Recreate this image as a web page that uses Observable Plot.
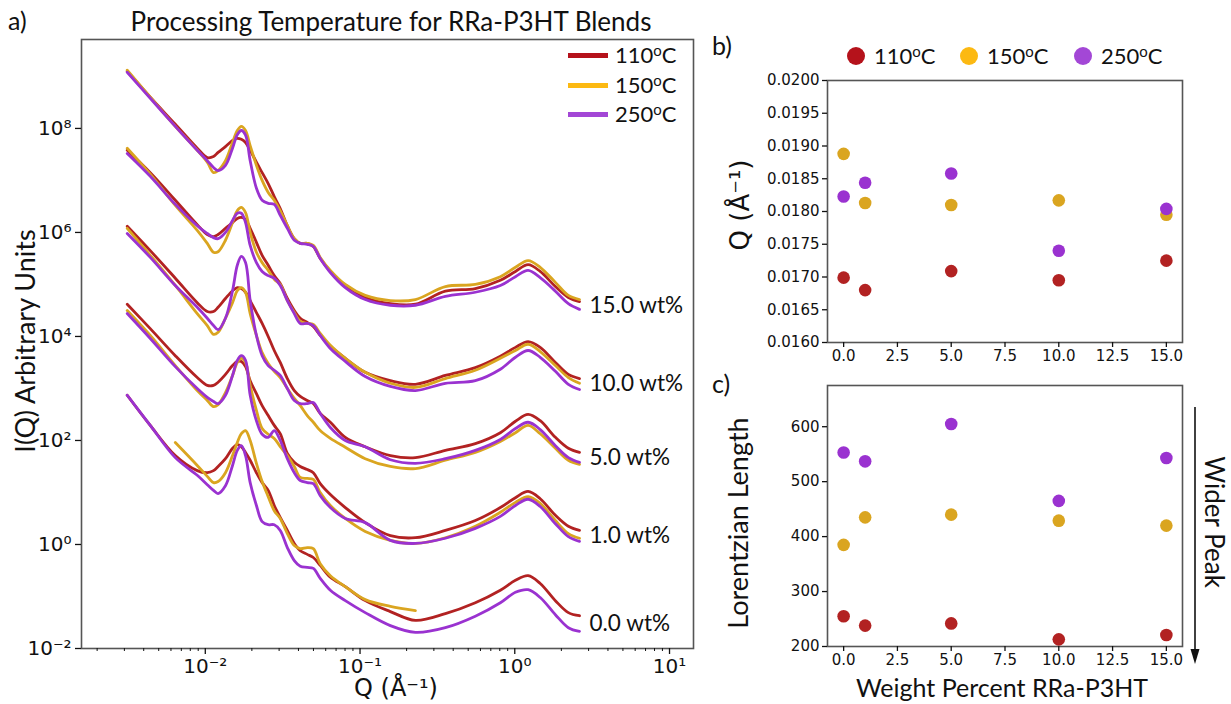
<!DOCTYPE html>
<html><head><meta charset="utf-8">
<script src="https://cdn.jsdelivr.net/npm/d3@7"></script>
<script src="https://cdn.jsdelivr.net/npm/@observablehq/plot@0.6"></script>
<style>
body{margin:0;background:#fff}
#root{position:relative;width:1231px;height:704px;overflow:hidden;background:#fff;font-family:Lato,sans-serif;color:#111}
.abs{position:absolute;white-space:nowrap;line-height:1}
.c{transform:translate(-50%,-50%)}
.rl{transform:translate(-50%,-50%) rotate(-90deg)}
.rr{transform:translate(-50%,-50%) rotate(90deg)}
.sup{font-size:0.68em;position:relative;top:-0.5em}
</style></head><body>
<div id="root">
  <div id="pa" class="abs" style="left:0;top:0"></div>
  <div id="pb" class="abs" style="left:700px;top:0"></div>
  <div id="pc" class="abs" style="left:700px;top:372px"></div>
</div>
<script>
// ---------- DATA ----------
const temps = ["110", "150", "250"];
const tempColors = ["#b22222", "#daa520", "#9a32d0"];
const legendColors = ["#b5121b", "#fcb912", "#a347d6"];
const wtLabels = ["15.0 wt%", "10.0 wt%", "5.0 wt%", "1.0 wt%", "0.0 wt%"];

// Q grid (Å^-1) shared by the SAXS curves of panel a
const qGrid = [0.00313, 0.00441, 0.00640, 0.00887, 0.0103, 0.0113, 0.0121, 0.0135, 0.0150, 0.0161,
  0.0171, 0.0182, 0.0195, 0.0214, 0.0233, 0.0255, 0.0279, 0.0305, 0.0339, 0.0376,
  0.0411, 0.0456, 0.0499, 0.0553, 0.0643, 0.0803, 0.108, 0.157, 0.228, 0.356,
  0.556, 0.807, 1.01, 1.22, 1.46, 1.83, 2.22, 2.62];

// log10 I(Q) (offset curves)
const logI_15_110 = [9.10, 8.60, 8.08, 7.62, 7.44, 7.46, 7.54, 7.65, 7.77, 7.81, 7.79, 7.73, 7.58, 7.35, 7.15, 6.94, 6.69, 6.46, 6.13, 5.88, 5.79, 5.79, 5.73, 5.50, 5.25, 4.96, 4.75, 4.63, 4.62, 4.87, 4.92, 5.08, 5.25, 5.38, 5.25, 4.96, 4.75, 4.67];
const logI_15_150 = [9.12, 8.60, 8.04, 7.58, 7.35, 7.15, 7.19, 7.38, 7.73, 7.96, 8.04, 7.96, 7.67, 7.29, 7.00, 6.77, 6.62, 6.42, 6.13, 5.88, 5.79, 5.79, 5.75, 5.52, 5.27, 5.00, 4.79, 4.69, 4.71, 4.96, 5.00, 5.15, 5.33, 5.46, 5.33, 5.04, 4.79, 4.71];
const logI_15_250 = [9.08, 8.58, 8.04, 7.58, 7.38, 7.25, 7.19, 7.29, 7.62, 7.88, 7.96, 7.87, 7.38, 6.85, 6.62, 6.56, 6.54, 6.33, 6.08, 5.85, 5.79, 5.77, 5.73, 5.50, 5.23, 4.94, 4.71, 4.60, 4.60, 4.77, 4.85, 4.98, 5.15, 5.27, 5.13, 4.87, 4.63, 4.52];
const logI_10_110 = [7.58, 7.15, 6.62, 6.15, 5.96, 5.92, 5.96, 6.08, 6.19, 6.27, 6.29, 6.25, 6.08, 5.81, 5.56, 5.37, 5.17, 5.02, 4.73, 4.50, 4.35, 4.27, 4.19, 4.02, 3.81, 3.58, 3.31, 3.15, 3.08, 3.25, 3.40, 3.62, 3.79, 3.90, 3.79, 3.50, 3.27, 3.19];
const logI_10_150 = [7.62, 7.12, 6.52, 6.04, 5.79, 5.62, 5.63, 5.85, 6.19, 6.42, 6.48, 6.38, 6.00, 5.62, 5.42, 5.27, 5.10, 5.00, 4.69, 4.46, 4.29, 4.25, 4.23, 4.06, 3.83, 3.58, 3.31, 3.10, 3.02, 3.19, 3.35, 3.58, 3.73, 3.85, 3.71, 3.44, 3.21, 3.10];
const logI_10_250 = [7.52, 7.08, 6.54, 6.13, 5.98, 5.90, 5.88, 6.00, 6.23, 6.37, 6.37, 6.19, 5.75, 5.42, 5.25, 5.17, 5.12, 4.98, 4.69, 4.44, 4.25, 4.25, 4.21, 4.02, 3.77, 3.52, 3.23, 3.04, 2.96, 3.10, 3.15, 3.37, 3.60, 3.73, 3.60, 3.33, 3.08, 2.98];
const logI_5_110 = [6.12, 5.65, 5.12, 4.65, 4.48, 4.48, 4.56, 4.73, 4.88, 4.94, 4.92, 4.85, 4.69, 4.46, 4.25, 4.00, 3.73, 3.50, 3.19, 2.96, 2.85, 2.77, 2.71, 2.52, 2.35, 2.06, 1.88, 1.71, 1.67, 1.81, 1.94, 2.15, 2.37, 2.50, 2.38, 2.06, 1.85, 1.77];
const logI_5_150 = [6.08, 5.56, 4.98, 4.44, 4.21, 4.04, 4.08, 4.35, 4.65, 4.88, 4.94, 4.85, 4.44, 4.02, 3.69, 3.48, 3.33, 3.21, 3.00, 2.81, 2.67, 2.48, 2.35, 2.19, 2.04, 1.87, 1.65, 1.50, 1.46, 1.62, 1.77, 1.98, 2.15, 2.29, 2.13, 1.85, 1.62, 1.54];
const logI_5_250 = [5.98, 5.52, 4.98, 4.56, 4.35, 4.21, 4.13, 4.35, 4.88, 5.37, 5.54, 5.42, 4.69, 4.02, 3.63, 3.44, 3.35, 3.25, 3.00, 2.77, 2.71, 2.71, 2.73, 2.52, 2.25, 2.00, 1.88, 1.63, 1.56, 1.65, 1.81, 2.02, 2.23, 2.35, 2.21, 1.90, 1.67, 1.58];
const logI_1_110 = [4.62, 4.15, 3.63, 3.21, 3.06, 3.06, 3.12, 3.27, 3.44, 3.52, 3.52, 3.42, 3.15, 2.90, 2.67, 2.48, 2.29, 2.13, 1.75, 1.58, 1.50, 1.44, 1.38, 1.17, 0.96, 0.71, 0.42, 0.17, 0.13, 0.27, 0.46, 0.71, 0.90, 1.02, 0.88, 0.56, 0.35, 0.27];
const logI_1_150 = [4.50, 4.02, 3.44, 2.96, 2.77, 2.65, 2.69, 2.92, 3.25, 3.50, 3.58, 3.50, 3.06, 2.58, 2.23, 2.12, 2.04, 1.88, 1.71, 1.50, 1.29, 1.27, 1.25, 1.00, 0.75, 0.50, 0.25, 0.08, 0.02, 0.13, 0.35, 0.62, 0.81, 0.92, 0.79, 0.46, 0.21, 0.12];
const logI_1_250 = [4.44, 3.96, 3.42, 3.00, 2.83, 2.75, 2.71, 2.87, 3.25, 3.54, 3.63, 3.54, 2.87, 2.38, 2.12, 2.06, 2.19, 2.00, 1.65, 1.38, 1.23, 1.19, 1.17, 0.94, 0.71, 0.50, 0.42, 0.08, 0.02, 0.12, 0.31, 0.54, 0.75, 0.87, 0.73, 0.40, 0.15, 0.06];
const logI_0_110 = [2.87, 2.29, 1.71, 1.42, 1.38, 1.42, 1.50, 1.65, 1.85, 1.92, 1.88, 1.77, 1.62, 1.38, 1.19, 1.04, 0.75, 0.52, 0.27, 0.02, -0.12, -0.19, -0.25, -0.40, -0.63, -0.81, -1.08, -1.29, -1.46, -1.33, -1.12, -0.88, -0.69, -0.60, -0.75, -1.08, -1.31, -1.37];
const logI_0_150 = [null, null, 1.96, 1.52, 1.31, 1.19, 1.21, 1.38, 1.71, 1.96, 2.13, 2.19, 2.00, 1.56, 1.21, 0.92, 0.65, 0.50, 0.21, -0.02, -0.08, -0.06, -0.08, -0.37, -0.60, -0.81, -1.06, -1.19, -1.27, null, null, null, null, null, null, null, null, null];
const logI_0_250 = [2.87, 2.29, 1.67, 1.33, 1.15, 1.04, 0.98, 1.13, 1.52, 1.81, 1.90, 1.71, 1.19, 0.75, 0.44, 0.38, 0.38, 0.27, -0.06, -0.31, -0.42, -0.44, -0.46, -0.65, -0.88, -1.08, -1.31, -1.56, -1.69, -1.60, -1.38, -1.12, -0.92, -0.87, -1.02, -1.35, -1.60, -1.67];

// panels b and c
const wtPercent = [0, 1, 5, 10, 15];
const peakQ_110 = [0.01699, 0.01680, 0.01709, 0.01695, 0.01725];
const peakQ_150 = [0.01888, 0.01813, 0.01810, 0.01817, 0.01795];
const peakQ_250 = [0.01823, 0.01844, 0.01858, 0.01740, 0.01804];
const lorentz_110 = [255, 238, 242, 213, 221];
const lorentz_150 = [385, 435, 440, 429, 420];
const lorentz_250 = [553, 537, 605, 465, 543];

// tick values / labels
const logXTicks = [0.01, 0.1, 1, 10];
const logXTickLabels = ["10⁻²", "10⁻¹", "10⁰", "10¹"];
const logYTicks = [1e-2, 1, 1e2, 1e4, 1e6, 1e8];
const logYTickLabels = ["10⁻²", "10⁰", "10²", "10⁴", "10⁶", "10⁸"];
const qTicks = [0.0160, 0.0165, 0.0170, 0.0175, 0.0180, 0.0185, 0.0190, 0.0195, 0.0200];
const lorTicks = [200, 300, 400, 500, 600];
const wtTicks = [0, 2.5, 5, 7.5, 10, 12.5, 15];

// ---------- BUILD ----------
const curveSets = {
  "15.0 wt%": [logI_15_110, logI_15_150, logI_15_250],
  "10.0 wt%": [logI_10_110, logI_10_150, logI_10_250],
  "5.0 wt%": [logI_5_110, logI_5_150, logI_5_250],
  "1.0 wt%": [logI_1_110, logI_1_150, logI_1_250],
  "0.0 wt%": [logI_0_110, logI_0_150, logI_0_250]
};
const saxs = [];
temps.forEach((t, ti) => {
  wtLabels.forEach(w => {
    curveSets[w][ti].forEach((v, i) => {
      if (v != null) saxs.push({q: qGrid[i], I: Math.pow(10, v), temp: t, key: w + "|" + t});
    });
  });
});
const last = qGrid.length - 1;
const groupLabels = wtLabels.map(w => {
  const s = curveSets[w];
  return {label: w, q: qGrid[last], I: Math.pow(10, (s[0][last] + s[2][last]) / 2)};
});
const minorX = [];
for (const dec of [0.001, 0.01, 0.1, 1]) for (let m = 2; m <= 9; m++) {
  const v = m * dec; if (v > 0.00158 && v < 14.3) minorX.push(v);
}
const xLab = new Map(logXTicks.map((v, i) => [v, logXTickLabels[i]]));
const yLab = new Map(logYTicks.map((v, i) => [v, logYTickLabels[i]]));
const color = {domain: temps, range: tempColors};

const pa = Plot.plot({
  width: 700, height: 704,
  marginLeft: 81, marginRight: 7, marginTop: 39, marginBottom: 56,
  style: {fontFamily: "DejaVu Sans", fontSize: "20px", color: "#111", background: "transparent"},
  x: {type: "log", domain: [Math.pow(10, -2.80), Math.pow(10, 1.155)], label: null},
  y: {type: "log", domain: [1e-2, Math.pow(10, 9.71)], label: null},
  color,
  marks: [
    Plot.line(saxs, {x: "q", y: "I", z: "key", stroke: "temp", strokeWidth: 2.8, curve: "catmull-rom"}),
    Plot.text(groupLabels, {x: "q", y: "I", text: "label", textAnchor: "start", dx: 10, fontSize: 22.5, fontFamily: "Lato", fill: "#111"}),
    Plot.frame({stroke: "#555", strokeWidth: 1.6}),
    Plot.axisX(logXTicks, {tickFormat: d => xLab.get(d), tickSize: 6, tickPadding: 4, label: null, strokeWidth: 1.3, fontSize: 20}),
    Plot.axisX(minorX, {tickFormat: () => "", tickSize: 3, label: null, strokeWidth: 1}),
    Plot.axisY(logYTicks, {tickFormat: d => yLab.get(d), tickSize: 6, tickPadding: 4, label: null, strokeWidth: 1.3, fontSize: 20})
  ]
});
document.getElementById("pa").appendChild(pa);

const rowsB = [], rowsC = [];
const qSets = [peakQ_110, peakQ_150, peakQ_250], lSets = [lorentz_110, lorentz_150, lorentz_250];
temps.forEach((t, ti) => wtPercent.forEach((w, i) => {
  rowsB.push({w, v: qSets[ti][i], temp: t});
  rowsC.push({w, v: lSets[ti][i], temp: t});
}));

function scatter(rows, yDomain, yTicks, yFmt, h, mt, mb) {
  return Plot.plot({
    width: 531, height: h,
    marginLeft: 127, marginRight: 49, marginTop: mt, marginBottom: mb,
    style: {fontFamily: "DejaVu Sans", fontSize: "15px", color: "#111", background: "transparent"},
    x: {domain: [-0.75, 15.75], label: null},
    y: {domain: yDomain, label: null},
    color,
    marks: [
      Plot.frame({stroke: "#555", strokeWidth: 1.6}),
      Plot.axisX(wtTicks, {tickFormat: d => d.toFixed(1), tickSize: 5, tickPadding: 3, label: null, strokeWidth: 1.3}),
      Plot.axisY(yTicks, {tickFormat: yFmt, tickSize: 5, tickPadding: 3, label: null, strokeWidth: 1.3}),
      Plot.dot(rows, {x: "w", y: "v", fill: "temp", r: 6.3})
    ]
  });
}
document.getElementById("pb").appendChild(scatter(rowsB, [0.016, 0.020], qTicks, d => d.toFixed(4), 372, 80, 30));
document.getElementById("pc").appendChild(scatter(rowsC, [200, 675], lorTicks, d => String(d), 332, 13, 58));

// ---------- TEXT / LEGENDS ----------
const root = document.getElementById("root");
function add(html, style, cls) {
  const d = document.createElement("div");
  d.className = "abs " + (cls || "");
  d.innerHTML = html;
  d.setAttribute("style", style);
  root.appendChild(d);
  return d;
}
add("a)", "left:8px;top:8px;font-size:25px");
add("Processing Temperature for RRa-P3HT Blends", "left:391px;top:21px;font-size:26px", "c");
add("I(Q) Arbitrary Units", "left:24px;top:341px;font-size:27px", "rl");
add("Q (Å⁻¹)", "left:396px;top:688px;font-size:24px;font-family:'DejaVu Sans'", "c");
add("b)", "left:712px;top:33px;font-size:25px");
add("c)", "left:712px;top:371px;font-size:25px");
add("Q (Å⁻¹)", "left:740px;top:205px;font-size:26px;font-family:'DejaVu Sans'", "rl");
add("Lorentzian Length", "left:737px;top:523px;font-size:27px", "rl");
add("Weight Percent RRa-P3HT", "left:1002px;top:687px;font-size:25px", "c");
add("Wider Peak", "left:1215px;top:522px;font-size:26px", "rr");

// panel a legend
const legYs = [55, 85, 114];
temps.forEach((t, i) => {
  add("", `left:568px;top:${legYs[i] - 2.5}px;width:40px;height:5px;background:${legendColors[i]}`);
  add(`${t}<span class="sup">o</span>C`, `left:615px;top:${legYs[i] - 11}px;font-size:22px`);
});
// panel b legend
const legXs = [856, 969, 1083];
temps.forEach((t, i) => {
  add("", `left:${legXs[i] - 9}px;top:${56 - 9}px;width:18px;height:18px;border-radius:50%;background:${legendColors[i]}`);
  add(`${t}<span class="sup">o</span>C`, `left:${legXs[i] + 18}px;top:${56 - 11}px;font-size:22px`);
});

// arrow for "Wider Peak"
const ns = "http://www.w3.org/2000/svg";
const arr = document.createElementNS(ns, "svg");
arr.setAttribute("width", 20); arr.setAttribute("height", 275);
arr.setAttribute("style", "position:absolute;left:1185px;top:400px");
arr.innerHTML = '<line x1="10" y1="7" x2="10" y2="252" stroke="#111" stroke-width="1.6"/><path d="M5.5,249 L10,264 L14.5,249 Z" fill="#111"/>';
root.appendChild(arr);
</script>
</body></html>
